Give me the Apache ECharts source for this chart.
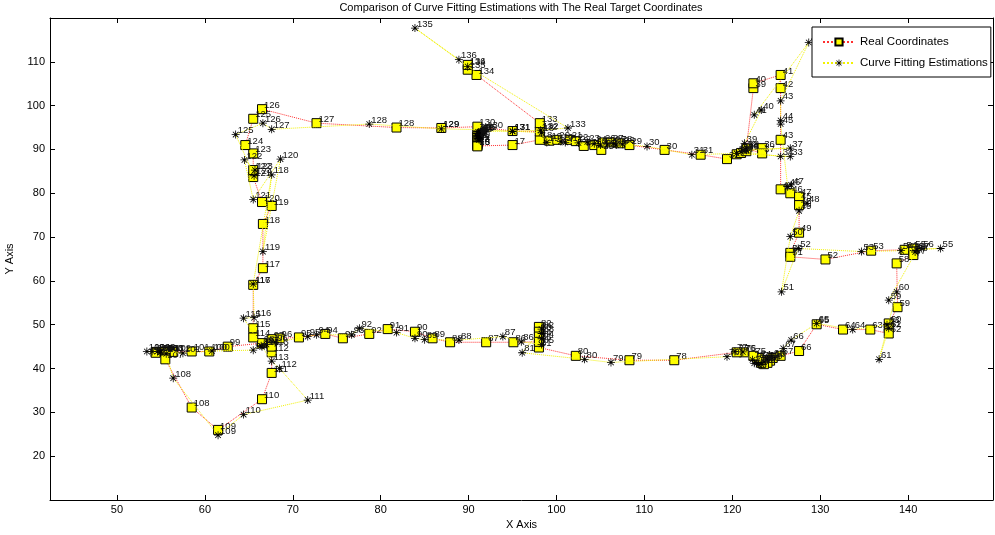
<!DOCTYPE html>
<html>
<head>
<meta charset="utf-8">
<script src="https://cdn.jsdelivr.net/npm/echarts@6/dist/echarts.min.js"></script>
<style>
  html, body { margin: 0; padding: 0; background: #fff; }
  #chart { width: 995px; height: 535px; }
</style>
</head>
<body>
<div id="chart"></div>
<script>
// Real target track (index 1..136)
const realX = [
  91.0, 91.0, 91.0, 91.0, 91.0, 91.0, 91.0, 91.0, 91.0, 91.0,
  91.0, 91.0, 91.0, 91.0, 91.0, 91.0, 95.0, 98.1, 99.2, 100.1,
  101.5, 102.2, 103.1, 104.3, 105.1, 105.3, 106.2, 107.2, 108.3, 112.3,
  116.4, 119.4, 120.5, 121.0, 121.6, 123.4, 123.4, 121.6, 122.4, 122.4,
  125.5, 125.5, 125.5, 125.5, 127.6, 126.6, 127.6, 127.6, 127.6, 126.6,
  126.6, 130.6, 135.8, 139.6, 140.6, 140.6, 140.6, 138.7, 138.8, 137.8,
  137.8, 137.8, 135.7, 132.6, 129.6, 127.6, 125.5, 124.6, 124.3, 124.0,
  123.6, 123.3, 123.3, 123.0, 122.4, 121.3, 120.5, 113.4, 108.3, 102.2,
  98.0, 98.0, 98.0, 98.0, 98.0, 95.1, 92.0, 87.9, 85.9, 83.9,
  80.8, 78.7, 75.7, 73.7, 70.7, 68.5, 67.6, 66.5, 62.6, 60.5,
  58.5, 56.4, 55.5, 54.4, 54.4, 55.5, 55.5, 58.5, 61.5, 66.5,
  67.6, 67.6, 67.6, 65.5, 65.5, 65.5, 66.6, 66.6, 67.6, 66.5,
  65.5, 65.5, 65.5, 64.6, 65.5, 66.5, 72.7, 81.8, 86.9, 91.0,
  95.0, 98.1, 98.1, 90.9, 89.9, 89.9
];
const realY = [
  91.0, 91.3, 91.6, 92.0, 92.3, 92.7, 93.0, 93.3, 93.0, 92.6,
  92.2, 91.8, 91.4, 91.1, 90.8, 90.7, 91.0, 92.2, 92.0, 92.2,
  92.2, 91.9, 90.8, 91.0, 89.9, 91.6, 91.6, 91.4, 91.0, 89.9,
  88.8, 87.8, 88.9, 89.2, 89.6, 90.3, 89.1, 90.2, 104.0, 105.1,
  107.0, 104.0, 92.2, 80.9, 78.3, 80.0, 79.2, 77.3, 71.0, 66.4,
  65.5, 64.9, 66.9, 67.1, 67.4, 66.7, 65.9, 64.0, 54.0, 50.3,
  49.2, 48.0, 48.9, 48.9, 50.1, 44.0, 42.9, 42.4, 41.8, 41.3,
  41.0, 41.3, 42.0, 42.4, 42.9, 43.7, 43.7, 41.9, 41.9, 42.9,
  44.8, 49.5, 48.4, 47.3, 46.1, 46.0, 46.0, 46.0, 46.9, 48.4,
  49.0, 47.9, 46.9, 47.9, 47.1, 46.9, 46.7, 45.8, 45.0, 43.9,
  43.9, 43.8, 43.8, 43.8, 43.6, 43.8, 42.1, 31.1, 26.0, 33.0,
  39.0, 43.7, 45.0, 47.1, 49.2, 59.1, 62.9, 73.0, 77.1, 78.0,
  83.7, 85.3, 89.1, 91.0, 97.0, 99.2, 96.0, 95.0, 94.9, 95.2,
  94.2, 94.1, 96.0, 107.0, 108.2, 109.3
];

// Curve fitting estimates (index 1..136)
const estX = [
  91.0, 91.2, 91.0, 91.3, 91.1, 91.4, 91.0, 91.2, 91.3, 91.1,
  91.4, 91.2, 91.5, 91.3, 91.6, 91.8, 95.0, 98.3, 98.9, 100.5,
  101.0, 102.5, 103.5, 104.3, 105.0, 105.8, 106.5, 106.8, 107.5, 110.3,
  115.4, 120.5, 126.6, 125.5, 121.0, 121.6, 126.6, 121.5, 121.4, 123.3,
  122.5, 128.7, 125.5, 125.5, 125.5, 126.3, 126.7, 128.5, 127.6, 126.6,
  125.6, 127.5, 134.7, 139.2, 143.7, 141.5, 141.0, 140.8, 137.8, 138.7,
  136.7, 137.8, 137.6, 133.7, 129.6, 126.7, 125.8, 124.5, 124.0, 123.6,
  123.3, 123.0, 122.8, 122.5, 122.3, 121.2, 120.3, 119.4, 106.2, 103.2,
  96.1, 98.3, 98.3, 98.3, 98.3, 96.0, 93.9, 88.9, 85.0, 83.9,
  81.8, 77.6, 76.7, 72.7, 71.7, 68.0, 67.0, 66.4, 65.5, 60.8,
  57.5, 55.0, 54.6, 54.0, 53.4, 54.9, 55.6, 56.4, 61.5, 64.4,
  71.7, 68.5, 67.6, 66.5, 64.4, 65.6, 65.5, 67.6, 66.6, 68.6,
  65.5, 64.5, 65.7, 65.6, 63.5, 66.6, 67.6, 78.7, 86.9, 91.9,
  95.0, 98.2, 101.3, 89.9, 83.9, 88.9
];
const estY = [
  93.7, 93.5, 92.8, 93.2, 92.5, 93.8, 93.0, 92.2, 93.5, 94.0,
  94.1, 93.6, 93.9, 94.0, 94.2, 94.1, 94.2, 93.8, 91.6, 91.8,
  91.6, 91.5, 91.7, 91.3, 91.0, 91.2, 91.3, 91.0, 91.2, 90.7,
  88.8, 89.1, 88.4, 88.4, 89.5, 89.8, 90.3, 90.0, 91.4, 99.0,
  97.9, 114.4, 101.1, 96.6, 95.8, 81.5, 81.9, 77.7, 76.0, 70.1,
  57.5, 67.4, 66.7, 66.9, 67.4, 67.4, 67.0, 66.6, 55.6, 57.5,
  42.1, 49.2, 50.0, 48.9, 50.3, 46.5, 44.6, 42.5, 42.0, 41.5,
  41.0, 40.9, 41.3, 41.2, 42.0, 43.8, 43.9, 42.7, 41.4, 42.1,
  43.6, 49.0, 48.0, 46.8, 45.5, 46.1, 47.3, 46.5, 46.6, 46.9,
  48.2, 49.2, 47.7, 47.7, 47.3, 46.0, 45.5, 45.2, 44.2, 44.0,
  43.5, 43.8, 43.9, 43.9, 43.9, 43.7, 43.4, 37.8, 24.8, 29.5,
  32.8, 40.0, 41.7, 45.0, 51.5, 51.6, 59.3, 84.2, 66.7, 87.8,
  78.6, 87.6, 85.3, 84.0, 93.4, 96.0, 94.6, 95.8, 94.7, 94.5,
  94.1, 94.4, 94.9, 108.9, 117.7, 110.5
];

const xTicks = [50, 60, 70, 80, 90, 100, 110, 120, 130, 140];
const yTicks = [20, 30, 40, 50, 60, 70, 80, 90, 100, 110];

const FONT = '"Liberation Sans", Arial, Helvetica, sans-serif';

// Eight-armed asterisk marker built from four thin bars
const STAR = 'path://M-0.5,-5L0.5,-5L0.5,5L-0.5,5Z' +
  'M-5,-0.5L5,-0.5L5,0.5L-5,0.5Z' +
  'M-3.15,-3.85L3.85,3.15L3.15,3.85L-3.85,-3.15Z' +
  'M3.85,-3.15L-3.15,3.85L-3.85,3.15L3.15,-3.85Z';

const toPairs = (xs, ys) => xs.map((x, i) => [x, ys[i]]);

const indexLabel = {
  show: true,
  position: 'inside',
  align: 'left',
  verticalAlign: 'middle',
  offset: [2, -4],
  formatter: p => String(p.dataIndex + 1),
  fontSize: 9.5,
  fontFamily: FONT,
  color: '#111'
};

const boxLine = { show: true, onZero: false, lineStyle: { color: '#000', width: 1 } };

const chart = echarts.init(document.getElementById('chart'), null, { renderer: 'canvas' });

chart.setOption({
  animation: false,
  backgroundColor: '#fff',
  title: {
    text: 'Comparison of Curve Fitting Estimations with The Real Target Coordinates',
    left: 521,
    textAlign: 'center',
    top: 2,
    padding: 0,
    textStyle: { fontSize: 11, fontWeight: 'normal', color: '#000', fontFamily: FONT }
  },
  legend: {
    data: ['Real Coordinates', 'Curve Fitting Estimations'],
    orient: 'vertical',
    left: 812,
    top: 27,
    padding: [9, 3, 8, 10],
    itemWidth: 32,
    itemHeight: 9,
    itemGap: 9,
    borderColor: '#000',
    borderWidth: 1,
    borderRadius: 0,
    backgroundColor: '#fff',
    textStyle: { fontSize: 11.5, color: '#000', fontFamily: FONT }
  },
  grid: { left: 50, right: 2, top: 18, bottom: 35, containLabel: false, outerBoundsMode: 'none' },
  xAxis: [
    {
      type: 'value', position: 'bottom', min: 42.38, max: 149.66,
      name: 'X Axis', nameLocation: 'middle', nameGap: 18,
      nameTextStyle: { fontSize: 11, color: '#000', fontFamily: FONT },
      axisLine: boxLine,
      axisTick: { show: true, inside: true, length: 5, customValues: xTicks, lineStyle: { color: '#000' } },
      axisLabel: { show: true, customValues: xTicks, color: '#000', fontSize: 11, fontFamily: FONT, margin: 4 },
      splitLine: { show: false }
    },
    {
      type: 'value', position: 'top', min: 42.38, max: 149.66,
      axisLine: boxLine,
      axisTick: { show: true, inside: true, length: 5, customValues: xTicks, lineStyle: { color: '#000' } },
      axisLabel: { show: false },
      splitLine: { show: false }
    }
  ],
  yAxis: [
    {
      type: 'value', position: 'left', min: 10, max: 120,
      name: 'Y Axis', nameLocation: 'middle', nameGap: 29, nameRotate: 90,
      nameTextStyle: { fontSize: 11, color: '#000', fontFamily: FONT },
      axisLine: boxLine,
      axisTick: { show: true, inside: true, length: 5, customValues: yTicks, lineStyle: { color: '#000' } },
      axisLabel: { show: true, customValues: yTicks, color: '#000', fontSize: 11, fontFamily: FONT, margin: 5 },
      splitLine: { show: false }
    },
    {
      type: 'value', position: 'right', min: 10, max: 120,
      axisLine: boxLine,
      axisTick: { show: true, inside: true, length: 5, customValues: yTicks, lineStyle: { color: '#000' } },
      axisLabel: { show: false },
      splitLine: { show: false }
    }
  ],
  series: [
    {
      name: 'Real Coordinates',
      type: 'line',
      xAxisIndex: 0, yAxisIndex: 0,
      data: toPairs(realX, realY),
      showAllSymbol: true,
      symbol: 'rect',
      symbolSize: 9,
      itemStyle: { color: '#ffff00', borderColor: '#000', borderWidth: 1 },
      lineStyle: { color: '#ff3030', width: 1, type: 'dotted' },
      label: indexLabel,
      z: 2
    },
    {
      name: 'Curve Fitting Estimations',
      type: 'line',
      xAxisIndex: 0, yAxisIndex: 0,
      data: toPairs(estX, estY),
      showAllSymbol: true,
      symbol: STAR,
      symbolSize: 8,
      itemStyle: { color: '#000' },
      lineStyle: { color: '#f2f200', width: 1, type: 'dotted' },
      label: indexLabel,
      z: 3
    }
  ]
});
</script>
</body>
</html>
